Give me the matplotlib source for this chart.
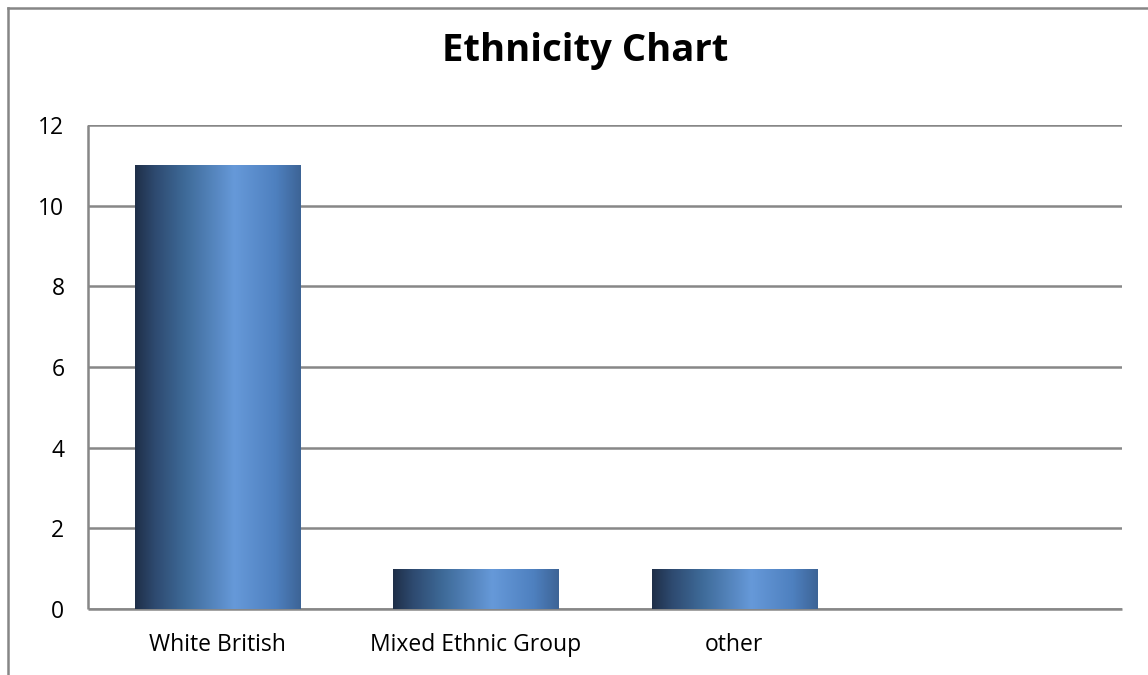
import numpy as np
import matplotlib.pyplot as plt
from matplotlib.colors import LinearSegmentedColormap
from matplotlib.lines import Line2D

# data
categories = ['White British', 'Mixed Ethnic Group', 'other', '']
counts = [11, 1, 1, 0]
y_ticks = [0, 2, 4, 6, 8, 10, 12]

plt.rcParams['font.family'] = ['Open Sans', 'DejaVu Sans']

fig = plt.figure(figsize=(11.48, 6.75), dpi=100)
ax = fig.add_axes([0.0767, 0.0978, 0.9007, 0.717])

# excel-ish cylinder gradient across each bar
grad = LinearSegmentedColormap.from_list('bar_grad', [
    (0.0, '#1f2f48'), (0.12, '#2e4a70'), (0.3, '#3e6a98'),
    (0.6, '#6699d9'), (0.85, '#4e80bf'), (1.0, '#3d6496')])

x = np.arange(len(categories))
bars = ax.bar(x, counts, width=0.64, color='none', edgecolor='none', zorder=3)
ramp = np.linspace(0, 1, 256).reshape(1, -1)
for b in bars:
    if b.get_height() <= 0:
        continue
    x0, y0 = b.get_x(), b.get_y()
    im = ax.imshow(ramp, cmap=grad, aspect='auto', zorder=3,
                   extent=[x0, x0 + b.get_width(), y0, y0 + b.get_height()])
    im.set_clip_path(b)

ax.set_xlim(-0.5, len(categories) - 0.5)
ax.set_ylim(0, 12)
ax.set_yticks(y_ticks)
ax.set_xticks(x)
ax.set_xticklabels(categories)
ax.tick_params(axis='both', length=0, labelsize=16.5, colors='black')
ax.tick_params(axis='y', pad=17)
ax.tick_params(axis='x', pad=17)
ax.yaxis.grid(True, color='#878787', linewidth=1.8, zorder=0)
ax.set_axisbelow(True)
for s in ['top', 'right']:
    ax.spines[s].set_visible(False)
for s in ['left', 'bottom']:
    ax.spines[s].set_color('#878787')
    ax.spines[s].set_linewidth(1.8)
    ax.spines[s].set_capstyle('butt')

fig.text(0.5096, 0.925, 'Ethnicity Chart', ha='center', va='center',
         fontsize=27.5, fontweight='bold')

# outer chart frame (cut off at right and bottom)
fx, fy = 8 / 1148, 1 - 8 / 675
fig.add_artist(Line2D([fx, fx], [0, fy], transform=fig.transFigure,
                      color='#868686', linewidth=1.8))
fig.add_artist(Line2D([fx, 1], [fy, fy], transform=fig.transFigure,
                      color='#868686', linewidth=1.8))

fig.savefig('out.png', dpi=100)
